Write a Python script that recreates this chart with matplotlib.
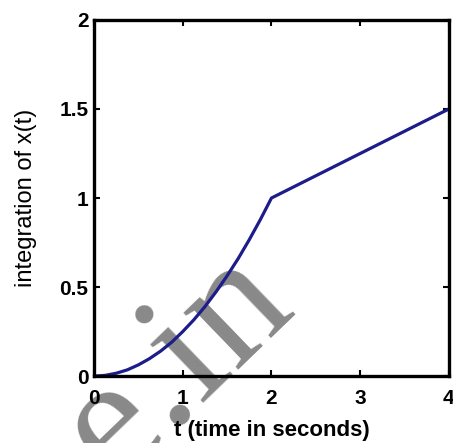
import matplotlib.pyplot as plt

# running integral of x(t), sampled
t = [0, 0.125, 0.25, 0.375, 0.5, 0.625, 0.75, 0.875, 1.0,
     1.125, 1.25, 1.375, 1.5, 1.625, 1.75, 1.875, 2.0, 4.0]
y_int = [0, 0.004, 0.016, 0.035, 0.063, 0.098, 0.14, 0.19, 0.25,
         0.316, 0.39, 0.473, 0.563, 0.66, 0.766, 0.879, 1.0, 1.5]

xticks = [0, 1, 2, 3, 4]
yticks = [0, 0.5, 1, 1.5, 2]
ytick_labels = ['0', '0.5', '1', '1.5', '2']

plt.rcParams['font.family'] = ['Liberation Sans', 'DejaVu Sans']

fig = plt.figure(figsize=(4.53, 4.43), dpi=100, facecolor='white')
ax = fig.add_axes([0.2075, 0.151, 0.7835, 0.804])
ax.patch.set_alpha(0)

ax.plot(t, y_int, color='#1c1c8a', linewidth=2.3, solid_capstyle='butt')

ax.set_xlim(0, 4)
ax.set_ylim(0, 2)
ax.set_xticks(xticks)
ax.set_yticks(yticks)
ax.set_yticklabels(ytick_labels)
ax.tick_params(direction='in', length=4, width=1.5, top=True, right=True,
               labelsize=15)
ax.tick_params(axis='x', pad=9)
ax.tick_params(axis='y', pad=4)
for lab in ax.get_xticklabels() + ax.get_yticklabels():
    lab.set_fontweight('bold')
for sp in ax.spines.values():
    sp.set_linewidth(2.4)

ax.set_xlabel('t (time in seconds)', fontsize=16, fontweight='bold', labelpad=9)
ax.set_ylabel('integration of x(t)', fontsize=17, labelpad=16)

# site watermark, sitting under the plot
fig.text(114 / 453, 1 - 484 / 443, 'e.in', rotation=44, rotation_mode='anchor',
         ha='left', va='baseline', fontsize=124, family='Liberation Serif',
         color='#898989', zorder=-1)

fig.savefig('out.png', dpi=100, facecolor='white')
